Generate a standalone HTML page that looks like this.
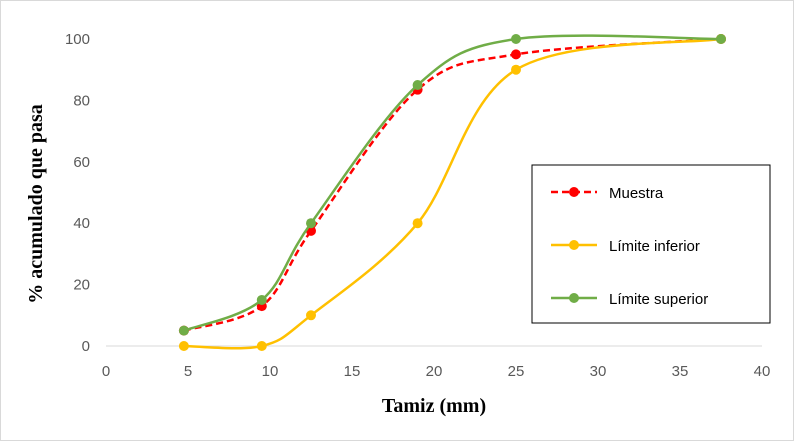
<!DOCTYPE html>
<html><head><meta charset="utf-8"><style>
body{margin:0;background:#fff}
svg{display:block;font-family:"Liberation Sans",sans-serif}
</style></head><body>
<svg id="chart" width="794" height="441" viewBox="0 0 794 441">
<rect x="0.5" y="0.5" width="793" height="440" fill="#fff" stroke="#d9d9d9"/>
<g id="axes"></g>
<g id="series"></g>
<text x="30" y="192" transform="rotate(-90 42 192)" font-family="Liberation Serif,serif" font-weight="bold" font-size="20" text-anchor="middle">% acumulado que pasa</text>
<text x="434" y="412" font-family="Liberation Serif,serif" font-weight="bold" font-size="20" text-anchor="middle">Tamiz (mm)</text>
<g>
<rect x="532" y="165" width="238" height="158" fill="#fff" stroke="#000" stroke-width="1"/>
<g><line x1="551" y1="192" x2="597" y2="192" stroke="#ff0000" stroke-width="2.5" stroke-dasharray="7,4"/><circle cx="574" cy="192" r="5" fill="#ff0000"/><text x="609" y="198" font-size="15">Muestra</text></g>
<g><line x1="551" y1="245" x2="597" y2="245" stroke="#ffc000" stroke-width="2.5"/><circle cx="574" cy="245" r="5" fill="#ffc000"/><text x="609" y="251" font-size="15">Límite inferior</text></g>
<g><line x1="551" y1="298" x2="597" y2="298" stroke="#70ad47" stroke-width="2.5"/><circle cx="574" cy="298" r="5" fill="#70ad47"/><text x="609" y="304" font-size="15">Límite superior</text></g>
</g>
</svg>
<script>
const sieves=[4.75,9.5,12.5,19,25,37.5];
const muestra=[5,13,37.5,83.5,95,100];
const inferior=[0,0,10,40,90,100];
const superior=[5,15,40,85,100,100];
const xTicks=[0,5,10,15,20,25,30,35,40];
const yTicks=[0,20,40,60,80,100];
const NS="http://www.w3.org/2000/svg";
const X=v=>106+v*(762-106)/40;
const Y=v=>346-v*(346-39)/100;
const axes=document.getElementById('axes');
const ax=document.createElementNS(NS,'line');
ax.setAttribute('x1',106);ax.setAttribute('x2',762);ax.setAttribute('y1',346);ax.setAttribute('y2',346);ax.setAttribute('stroke','#d9d9d9');


axes.appendChild(ax);
xTicks.forEach(t=>{const e=document.createElementNS(NS,'text');e.setAttribute('x',X(t));e.setAttribute('y',376);e.setAttribute('text-anchor','middle');e.setAttribute('font-size','15');e.setAttribute('fill','#595959');e.textContent=t;


axes.appendChild(e);});
yTicks.forEach(t=>{const e=document.createElementNS(NS,'text');e.setAttribute('x',90);e.setAttribute('y',Y(t)+5);e.setAttribute('text-anchor','end');e.setAttribute('font-size','15');e.setAttribute('fill','#595959');e.textContent=t;


axes.appendChild(e);});
function path(vals){const p=sieves.map((s,i)=>[X(s),Y(vals[i])]);let d=`M${p[0][0]},${p[0][1]}`;
for(let i=0;i<p.length-1;i++){const p0=p[i-1]||p[i],p1=p[i],p2=p[i+1],p3=p[i+2]||p2;const k=6;
d+=` C${p1[0]+(p2[0]-p0[0])/k},${p1[1]+(p2[1]-p0[1])/k} ${p2[0]-(p3[0]-p1[0])/k},${p2[1]-(p3[1]-p1[1])/k} ${p2[0]},${p2[1]}`;}return d;}
const g=document.getElementById('series');
[[muestra,'#ff0000','7,4','sample'],[inferior,'#ffc000','','lower-limit'],[superior,'#70ad47','','upper-limit']].forEach(([vals,c,da,n])=>{
const pe=document.createElementNS(NS,'path');pe.setAttribute('d',path(vals));pe.setAttribute('fill','none');pe.setAttribute('stroke',c);pe.setAttribute('stroke-width','2.5');if(da)pe.setAttribute('stroke-dasharray',da);


g.appendChild(pe);
vals.forEach((v,i)=>{const ci=document.createElementNS(NS,'circle');ci.setAttribute('cx',X(sieves[i]));ci.setAttribute('cy',Y(v));ci.setAttribute('r',5);ci.setAttribute('fill',c);


g.appendChild(ci);});});
</script>
</body></html>
